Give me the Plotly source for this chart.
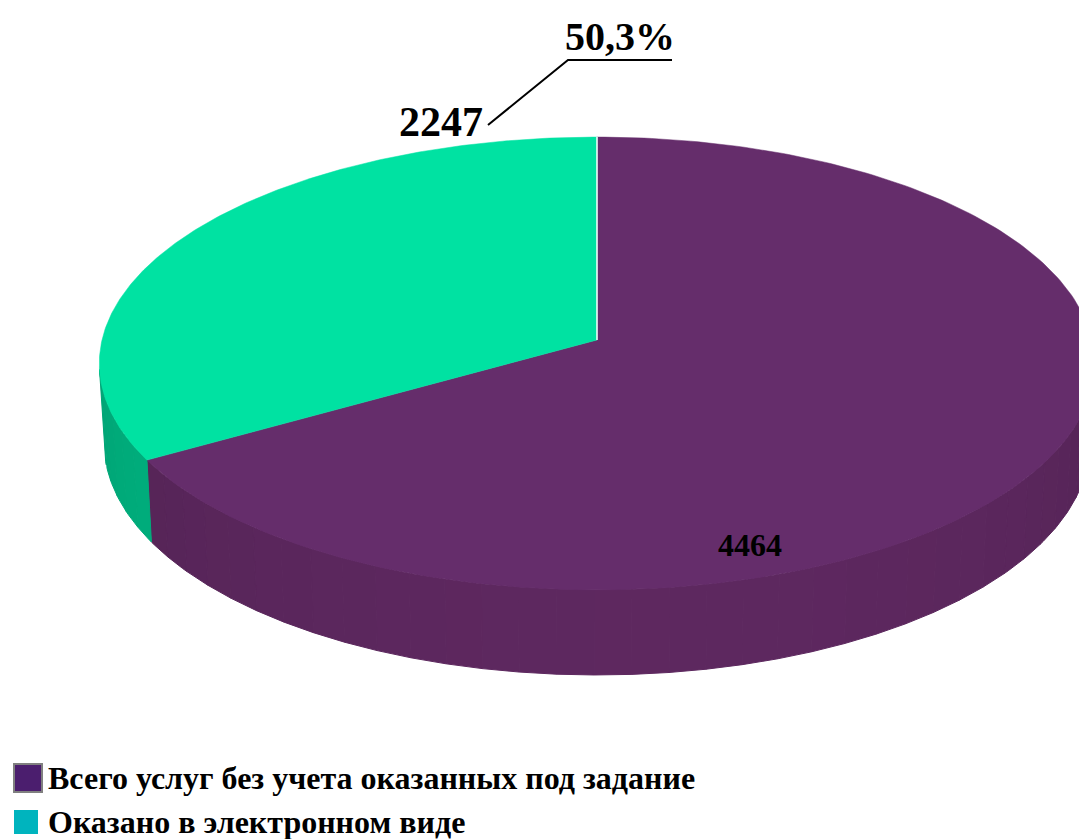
import numpy as np
import plotly.graph_objects as go

# ---------------- data ----------------
categories = ["Всего услуг без учета оказанных под задание", "Оказано в электронном виде"]
values = [4464, 2247]
value_labels = ["4464", "2247"]
ratio_pct = values[1] / values[0] * 100
ratio_label = f"{ratio_pct:.1f}%".replace(".", ",")

# ---------------- styles ----------------
top_colors = ["#652D6B", "#00E2A2"]
wall_colors = [(98, 42, 100), (0, 196, 140)]
legend_colors = ["#4B1E6E", "#00B4BE"]
FONT = "Liberation Serif"

W, H = 1087, 839
PAGE_OFF = 8  # default body margin of the html page
# perspective camera for the 3D pie
CX, CY = 597.0, 340.0
FOC, DIST = 4257.0, 8.6
ALPHA = np.radians(26.9)
THICK = 0.18
SA, CA = np.sin(ALPHA), np.cos(ALPHA)


def project(x, y, z):
    v = z * SA + y * CA
    w = z * CA - y * SA
    return CX + FOC * x / (DIST + w), CY - FOC * v / (DIST + w)


def rim(phi_deg, y):
    p = np.radians(phi_deg)
    return project(np.sin(p), y, np.cos(p))


total = sum(values)
bounds = np.concatenate([[0], np.cumsum(values) / total * 360.0])

fig = go.Figure()

# visible side wall range (outward normal facing camera)
lim = np.degrees(np.arccos(-1.0 / (DIST * CA)))
vis_lo, vis_hi = lim, 360 - lim

for i in range(len(values)):
    a0, a1 = max(bounds[i], vis_lo), min(bounds[i + 1], vis_hi)
    if a1 <= a0:
        continue
    edges = np.linspace(a0, a1, int(np.ceil((a1 - a0) / 4)) + 1)
    for j in range(len(edges) - 1):
        ph = np.linspace(edges[j], edges[j + 1], 6)
        tx, ty = rim(ph, 0.0)
        bx, by = rim(ph[::-1], -THICK)
        mid = np.radians((edges[j] + edges[j + 1]) / 2)
        shade = 0.86 + 0.10 * max(0.0, -np.cos(mid)) - 0.03 * max(0.0, -np.sin(mid))
        r, g, b = [int(min(255, c * shade)) for c in wall_colors[i]]
        col = f"rgb({r},{g},{b})"
        fig.add_trace(go.Scatter(
            x=np.concatenate([tx, bx, tx[:1]]), y=np.concatenate([ty, by, ty[:1]]),
            mode="lines", fill="toself", fillcolor=col,
            line=dict(color=col, width=1), hoverinfo="skip", showlegend=False))

for i in range(len(values)):
    ph = np.linspace(bounds[i], bounds[i + 1], 240)
    ax, ay = rim(ph, 0.0)
    cx0, cy0 = project(0, 0, 0)
    fig.add_trace(go.Scatter(
        x=np.concatenate([[cx0], ax, [cx0]]), y=np.concatenate([[cy0], ay, [cy0]]),
        mode="lines", fill="toself", fillcolor=top_colors[i],
        line=dict(color=top_colors[i], width=0.5), hoverinfo="skip",
        name=categories[i], showlegend=False))

# thin white separator at 12 o'clock
sx, sy = rim(np.array([0.0]), 0.0)
fig.add_trace(go.Scatter(x=[CX, sx[0]], y=[CY, sy[0]], mode="lines",
                         line=dict(color="white", width=1.5), hoverinfo="skip", showlegend=False))

annotations = [
    dict(x=750, y=545, text=f"<b>{value_labels[0]}</b>", font=dict(family=FONT, size=32, color="black")),
    dict(x=441, y=122, text=f"<b>{value_labels[1]}</b>", font=dict(family=FONT, size=42, color="black")),
    dict(x=620, y=36, text=f"<b>{ratio_label}</b>", font=dict(family=FONT, size=40, color="black")),
]
for a in annotations:
    a.update(xref="x", yref="y", showarrow=False, xanchor="center", yanchor="middle")

shapes = [dict(type="path", xref="x", yref="y", path="M 488 125 L 568 60 L 672 60",
               line=dict(color="black", width=2))]

# legend
leg_y = [778, 822]
for i, cat in enumerate(categories):
    shapes.append(dict(type="rect", xref="x", yref="y", x0=14, x1=42 if i == 0 else 38,
                       y0=leg_y[i] - 14 if i == 0 else leg_y[i] - 12,
                       y1=leg_y[i] + 14 if i == 0 else leg_y[i] + 12,
                       fillcolor=legend_colors[i],
                       line=dict(color="#808080" if i == 0 else legend_colors[i], width=2 if i == 0 else 0)))
    annotations.append(dict(x=46, y=leg_y[i], xref="x", yref="y", text=f"<b>{cat}</b>",
                            showarrow=False, xanchor="left", yanchor="middle",
                            font=dict(family=FONT, size=32, color="black")))

fig.update_layout(
    width=W - PAGE_OFF, height=H - PAGE_OFF, margin=dict(l=0, r=0, t=0, b=0),
    paper_bgcolor="white", plot_bgcolor="white",
    xaxis=dict(range=[PAGE_OFF, W], visible=False, fixedrange=True),
    yaxis=dict(range=[H, PAGE_OFF], visible=False, fixedrange=True),
    annotations=annotations, shapes=shapes, showlegend=False,
)

fig.write_html("out.html")
